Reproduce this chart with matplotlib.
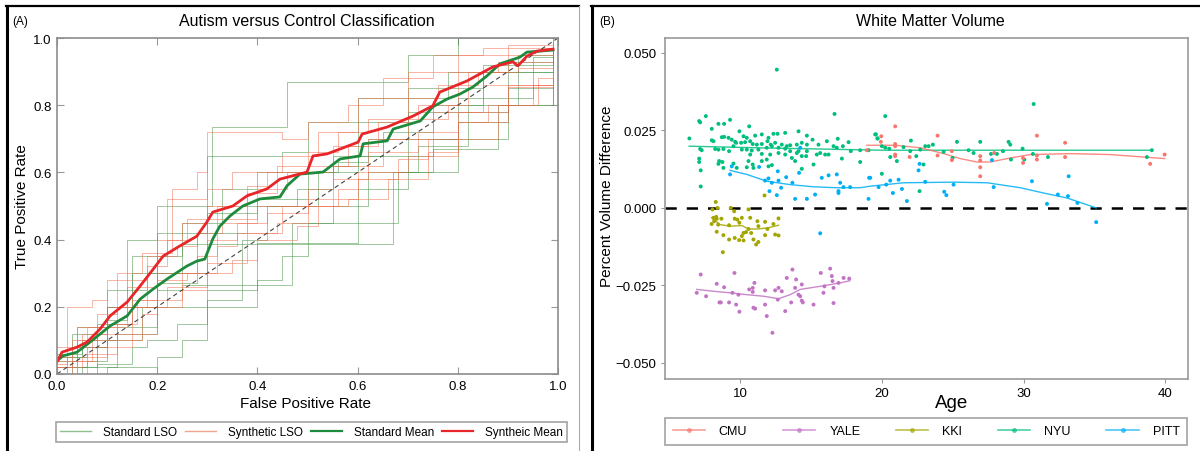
import matplotlib
matplotlib.use("Agg")
import matplotlib.pyplot as plt
from matplotlib.lines import Line2D

plt.rcParams['font.family'] = ['Liberation Sans', 'DejaVu Sans']

# ---------------- panel A data: ROC curves (fpr, tpr) ----------------
standard_lso = [
    [(0, 0), (0.02, 0.05), (0.06, 0.08), (0.1, 0.2), (0.2, 0.3), (0.3, 0.65), (0.45, 0.66), (0.5, 0.75), (0.6, 0.82), (0.7, 0.85), (0.85, 0.9), (0.99, 0.93)],
    [(0, 0), (0.05, 0.02), (0.12, 0.12), (0.2, 0.2), (0.3, 0.25), (0.4, 0.39), (0.5, 0.39), (0.6, 0.45), (0.68, 0.6), (0.8, 0.75), (0.9, 0.9), (0.99, 0.97)],
    [(0, 0.02), (0.08, 0.15), (0.15, 0.3), (0.2, 0.5), (0.31, 0.735), (0.45, 0.735), (0.46, 0.87), (0.6, 0.87), (0.7, 0.95), (0.8, 1.0), (0.99, 1.0)],
    [(0, 0), (0.1, 0.02), (0.2, 0.05), (0.25, 0.1), (0.3, 0.2), (0.4, 0.28), (0.45, 0.35), (0.5, 0.45), (0.6, 0.55), (0.7, 0.7), (0.8, 0.78), (0.9, 0.85), (0.99, 0.854)],
    [(0, 0.05), (0.05, 0.1), (0.12, 0.14), (0.2, 0.27), (0.28, 0.42), (0.38, 0.5), (0.48, 0.55), (0.55, 0.65), (0.65, 0.72), (0.75, 0.8), (0.85, 0.92), (0.99, 0.98)],
    [(0, 0.0), (0.03, 0.12), (0.1, 0.2), (0.15, 0.35), (0.25, 0.387), (0.45, 0.387), (0.66, 0.387), (0.67, 0.6), (0.75, 0.7), (0.9, 0.8), (0.99, 0.9)],
    [(0, 0.02), (0.06, 0.04), (0.1, 0.1), (0.17, 0.2), (0.2, 0.25), (0.25, 0.265), (0.47, 0.265), (0.47, 0.45), (0.55, 0.5), (0.62, 0.6), (0.72, 0.68), (0.82, 0.8), (0.92, 0.95), (0.99, 0.99)],
    [(0, 0.04), (0.04, 0.14), (0.1, 0.16), (0.14, 0.4), (0.2, 0.42), (0.3, 0.48), (0.4, 0.52), (0.5, 0.6), (0.56, 0.63), (0.62, 0.7), (0.7, 0.78), (0.8, 0.82), (0.95, 0.943), (0.99, 0.943)],
    [(0, 0.0), (0.08, 0.03), (0.15, 0.08), (0.18, 0.1), (0.24, 0.15), (0.3, 0.22), (0.37, 0.4), (0.42, 0.5), (0.52, 0.6), (0.6, 0.65), (0.75, 0.67), (0.88, 0.8), (0.99, 0.88)],
    [(0, 0.06), (0.05, 0.08), (0.1, 0.25), (0.18, 0.3), (0.25, 0.45), (0.33, 0.55), (0.4, 0.6), (0.55, 0.62), (0.6, 0.75), (0.7, 0.82), (0.78, 0.9), (0.9, 0.93), (0.99, 0.96)],
]
synthetic_lso = [
    [(0, 0.03), (0.02, 0.2), (0.07, 0.22), (0.1, 0.28), (0.18, 0.35), (0.22, 0.52), (0.3, 0.55), (0.35, 0.6), (0.45, 0.65), (0.52, 0.72), (0.6, 0.82), (0.7, 0.9), (0.8, 0.95), (0.99, 1.0)],
    [(0, 0.0), (0.04, 0.14), (0.1, 0.15), (0.15, 0.22), (0.2, 0.3), (0.28, 0.35), (0.32, 0.46), (0.4, 0.5), (0.5, 0.55), (0.55, 0.62), (0.65, 0.7), (0.75, 0.78), (0.85, 0.86), (0.99, 0.9)],
    [(0, 0.02), (0.05, 0.05), (0.1, 0.08), (0.15, 0.12), (0.2, 0.2), (0.25, 0.25), (0.3, 0.33), (0.38, 0.42), (0.45, 0.5), (0.55, 0.58), (0.62, 0.66), (0.72, 0.72), (0.8, 0.78), (0.9, 0.854), (0.99, 0.854)],
    [(0, 0.05), (0.03, 0.1), (0.08, 0.18), (0.12, 0.3), (0.17, 0.36), (0.23, 0.55), (0.28, 0.6), (0.3, 0.72), (0.38, 0.72), (0.45, 0.7), (0.5, 0.75), (0.58, 0.8), (0.65, 0.88), (0.75, 0.95), (0.85, 0.97), (0.99, 0.97)],
    [(0, 0.0), (0.06, 0.06), (0.12, 0.1), (0.17, 0.18), (0.2, 0.28), (0.26, 0.3), (0.3, 0.4), (0.36, 0.45), (0.42, 0.48), (0.5, 0.52), (0.6, 0.6), (0.7, 0.65), (0.8, 0.75), (0.9, 0.86), (0.99, 0.9)],
    [(0, 0.08), (0.05, 0.12), (0.1, 0.2), (0.14, 0.26), (0.2, 0.4), (0.25, 0.45), (0.3, 0.5), (0.38, 0.56), (0.42, 0.6), (0.5, 0.62), (0.58, 0.68), (0.64, 0.75), (0.72, 0.8), (0.8, 0.9), (0.88, 0.93), (0.99, 0.93)],
    [(0, 0.0), (0.03, 0.04), (0.07, 0.1), (0.12, 0.15), (0.16, 0.22), (0.2, 0.35), (0.24, 0.38), (0.28, 0.42), (0.33, 0.45), (0.4, 0.55), (0.46, 0.6), (0.55, 0.68), (0.62, 0.7), (0.7, 0.76), (0.78, 0.8), (0.82, 0.9), (0.9, 0.98), (0.99, 1.0)],
    [(0, 0.04), (0.08, 0.14), (0.14, 0.2), (0.2, 0.22), (0.25, 0.3), (0.32, 0.38), (0.36, 0.42), (0.44, 0.45), (0.5, 0.5), (0.56, 0.55), (0.6, 0.58), (0.68, 0.64), (0.74, 0.7), (0.8, 0.75), (0.86, 0.8), (0.96, 0.88), (0.99, 0.88)],
    [(0, 0.0), (0.04, 0.1), (0.06, 0.14), (0.12, 0.2), (0.18, 0.32), (0.22, 0.4), (0.26, 0.46), (0.32, 0.5), (0.38, 0.54), (0.44, 0.62), (0.5, 0.66), (0.56, 0.72), (0.62, 0.76), (0.7, 0.82), (0.76, 0.86), (0.84, 0.9), (0.92, 0.91), (0.99, 0.91)],
    [(0, 0.02), (0.03, 0.08), (0.1, 0.12), (0.15, 0.2), (0.22, 0.26), (0.3, 0.3), (0.35, 0.34), (0.4, 0.4), (0.48, 0.44), (0.52, 0.5), (0.58, 0.52), (0.66, 0.58), (0.74, 0.66), (0.8, 0.7), (0.88, 0.8), (0.95, 0.86), (0.99, 0.87)],
]
standard_mean_fpr = [0, 0.012, 0.04, 0.066, 0.106, 0.14, 0.166, 0.192, 0.22, 0.259, 0.279, 0.295, 0.311, 0.325, 0.339, 0.345, 0.371, 0.405, 0.445, 0.459, 0.485, 0.531, 0.565, 0.605, 0.611, 0.659, 0.671, 0.725, 0.75, 0.778, 0.804, 0.83, 0.858, 0.884, 0.924, 0.938, 0.99]
standard_mean_tpr = [0.039, 0.054, 0.065, 0.095, 0.143, 0.173, 0.223, 0.253, 0.283, 0.321, 0.336, 0.342, 0.402, 0.44, 0.461, 0.47, 0.50, 0.521, 0.527, 0.56, 0.595, 0.601, 0.64, 0.649, 0.685, 0.694, 0.729, 0.753, 0.795, 0.818, 0.833, 0.854, 0.887, 0.923, 0.943, 0.958, 0.964]
synthetic_mean_fpr = [0, 0.01, 0.04, 0.06, 0.086, 0.106, 0.14, 0.166, 0.192, 0.212, 0.245, 0.279, 0.299, 0.311, 0.351, 0.379, 0.419, 0.445, 0.499, 0.511, 0.539, 0.601, 0.609, 0.659, 0.711, 0.75, 0.764, 0.818, 0.87, 0.91, 0.92, 0.938, 0.958, 0.99]
synthetic_mean_tpr = [0.036, 0.065, 0.08, 0.095, 0.134, 0.173, 0.214, 0.262, 0.312, 0.351, 0.381, 0.41, 0.452, 0.482, 0.50, 0.53, 0.551, 0.58, 0.601, 0.649, 0.655, 0.69, 0.714, 0.735, 0.768, 0.798, 0.839, 0.872, 0.914, 0.929, 0.917, 0.946, 0.961, 0.967]

# ---------------- panel B data: age vs percent volume difference ----------------
sites = ['CMU', 'YALE', 'KKI', 'NYU', 'PITT']
site_colors = {'CMU': '#F8766D', 'KKI': '#A3A500', 'NYU': '#00BF7D', 'PITT': '#00B0F6', 'YALE': '#C273C4'}

nyu_age = [6.42, 7.11, 7.18, 7.58, 8.00, 8.00, 8.12, 8.47, 8.87, 9.29, 8.71, 8.87, 9.18, 9.41, 9.65, 7.18, 7.29, 7.11, 7.11, 7.22,
           7.22, 8.24, 8.47, 8.82, 9.22, 8.52, 8.47, 8.75, 8.82, 9.76, 9.53, 9.95, 10.24, 10.47, 10.64, 11.06, 11.53, 12.00, 12.35, 12.64,
           13.18, 14.12, 14.71, 15.11, 15.53, 16.12, 16.89, 17.65, 9.53, 9.72, 10.07, 10.35, 10.71, 10.89, 11.18, 11.53, 11.93, 12.16, 12.47, 12.94,
           13.29, 13.53, 14.00, 14.35, 14.71, 10.12, 10.47, 10.82, 11.29, 11.88, 12.24, 12.71, 13.18, 13.53, 14.12, 14.71, 10.71, 11.53, 12.12, 12.71,
           13.18, 14.00, 14.35, 14.66, 15.41, 15.65, 16.00, 16.24, 16.59, 16.82, 17.25, 17.81, 18.47, 10.59, 10.89, 11.53, 11.88, 13.65, 13.88, 15.18,
           17.18, 18.47, 10.47, 10.94, 12.00, 12.24, 14.35, 16.66, 19.53, 19.69, 19.06, 12.59, 19.58, 19.70, 20.00, 20.24, 20.24, 20.52, 20.00, 20.59,
           21.06, 21.53, 22.00, 22.05, 22.43, 22.71, 23.06, 23.30, 23.60, 22.94, 22.66, 24.36, 24.99, 25.30, 26.12, 26.47, 26.94, 27.70, 28.12, 28.55,
           28.94, 29.06, 29.11, 29.93, 30.05, 30.66, 30.71, 31.72, 39.05, 38.70]
nyu_val = [0.0224, 0.0280, 0.0276, 0.0296, 0.0255, 0.0218, 0.0215, 0.0271, 0.0271, 0.0284, 0.0228, 0.0229, 0.0226, 0.0220, 0.0213, 0.0190, 0.0186, 0.0159, 0.0148, 0.0121,
           0.0069, 0.0190, 0.0188, 0.0190, 0.0183, 0.0151, 0.0142, 0.0148, 0.0129, 0.0129, 0.0143, 0.0247, 0.0231, 0.0226, 0.0263, 0.0233, 0.0237, 0.0226, 0.0239, 0.0239,
           0.0242, 0.0247, 0.0233, 0.0220, 0.0204, 0.0215, 0.0223, 0.0212, 0.0199, 0.0210, 0.0210, 0.0212, 0.0215, 0.0206, 0.0204, 0.0206, 0.0215, 0.0204, 0.0210, 0.0204,
           0.0199, 0.0202, 0.0204, 0.0210, 0.0204, 0.0188, 0.0188, 0.0185, 0.0188, 0.0194, 0.0199, 0.0194, 0.0191, 0.0183, 0.0183, 0.0183, 0.0172, 0.0174, 0.0172, 0.0177,
           0.0172, 0.0177, 0.0167, 0.0167, 0.0172, 0.0177, 0.0172, 0.0172, 0.0199, 0.0194, 0.0199, 0.0183, 0.0186, 0.0151, 0.0140, 0.0151, 0.0156, 0.0161, 0.0151, 0.0140,
           0.0159, 0.0148, 0.0131, 0.0129, 0.0134, 0.0138, 0.0126, 0.0303, 0.0237, 0.0224, 0.0186, 0.0446, 0.0237, 0.0224, 0.0199, 0.0296, 0.0194, 0.0191, 0.0110, 0.0164,
           0.0151, 0.0196, 0.0183, 0.0217, 0.0167, 0.0188, 0.0199, 0.0199, 0.0204, 0.0140, 0.0054, 0.0181, 0.0161, 0.0213, 0.0186, 0.0177, 0.0213, 0.0174, 0.0174, 0.0183,
           0.0213, 0.0204, 0.0156, 0.0191, 0.0156, 0.0174, 0.0335, 0.0164, 0.0186, 0.0164]

cmu_age = [18.94, 19.96, 19.93, 20.94, 20.94, 20.94, 20.94, 20.94, 21.96, 23.93, 23.93, 24.94, 24.94, 26.94, 26.94, 26.94, 26.94, 27.93, 29.96, 29.96,
           30.94, 30.94, 30.94, 32.93, 32.93, 38.93, 39.95]
cmu_val = [0.0186, 0.0231, 0.0213, 0.0263, 0.0206, 0.0199, 0.0172, 0.0167, 0.0164, 0.0233, 0.0169, 0.0183, 0.0154, 0.0167, 0.0153, 0.0131, 0.0102, 0.0177, 0.0161, 0.0145,
           0.0233, 0.0169, 0.0156, 0.0210, 0.0164, 0.0142, 0.0172]

pitt_age = [9.41, 9.29, 11.34, 12.66, 13.25, 12.71, 12.00, 11.76, 12.24, 12.89, 12.07, 12.59, 13.69, 13.88, 14.16, 14.71, 15.29, 15.76, 16.24, 16.82,
            17.06, 16.94, 16.94, 17.29, 17.76, 19.10, 19.06, 14.24, 15.65, 19.18, 19.77, 20.31, 20.59, 20.78, 21.18, 21.42, 21.77, 22.59, 22.66, 23.06,
            24.40, 24.55, 25.06, 27.77, 27.89, 30.59, 31.65, 32.42, 33.13, 33.18, 33.80, 35.12]
pitt_val = [0.0134, 0.0108, 0.0132, 0.0118, 0.0099, 0.0088, 0.0095, 0.0088, 0.0081, 0.0065, 0.0054, 0.0041, 0.0081, 0.0029, 0.0113, 0.0029, 0.0043, 0.0097, 0.0105, 0.0108,
            0.0081, 0.0054, 0.0048, 0.0067, 0.0067, 0.0097, 0.0029, 0.0194, -0.0082, 0.0097, 0.0067, 0.0075, 0.0088, 0.0048, 0.0091, 0.0061, 0.0022, 0.0121, 0.0142, 0.0084,
            0.0052, 0.0041, 0.0075, 0.0154, 0.0067, 0.0086, 0.0013, 0.0043, 0.0038, 0.0102, 0.0016, -0.0046]

kki_age = [8.28, 8.05, 8.40, 9.34, 9.58, 10.59, 8.12, 8.31, 8.35, 7.99, 8.17, 8.45, 8.68, 9.22, 9.62, 9.81, 10.12, 9.95, 10.71, 11.22,
           11.76, 11.29, 10.59, 10.24, 10.42, 10.78, 10.12, 9.62, 9.93, 10.24, 9.22, 8.82, 8.35, 11.76, 11.93, 12.35, 12.71, 12.47, 12.71, 11.13,
           11.29, 10.94, 8.78, 11.72]
kki_val = [0.0019, -0.0005, 0.0000, 0.0000, -0.0011, -0.0005, -0.0032, -0.0029, -0.0035, -0.0052, -0.0043, -0.0054, -0.0035, -0.0056, -0.0035, -0.0038, -0.0032, -0.0048, -0.0032, -0.0043,
           -0.0045, -0.0059, -0.0068, -0.0081, -0.0078, -0.0081, -0.0091, -0.0097, -0.0104, -0.0105, -0.0102, -0.0088, -0.0077, -0.0088, -0.0068, -0.0052, -0.0034, -0.0086, -0.0089, -0.0118,
           -0.0110, -0.0102, -0.0143, 0.0040]

yale_age = [7.22, 6.94, 7.60, 8.35, 8.87, 8.54, 8.64, 9.22, 9.46, 9.60, 9.72, 9.88, 9.95, 10.64, 10.89, 11.01, 10.89, 10.94, 11.06, 11.76,
            11.76, 11.88, 12.28, 12.47, 12.71, 12.94, 12.66, 13.18, 13.29, 13.69, 13.95, 13.88, 14.12, 14.24, 14.35, 14.35, 14.42, 13.60, 15.18, 15.69,
            15.88, 15.95, 16.35, 16.47, 16.52, 16.59, 16.59, 16.94, 17.30, 17.70]
yale_val = [-0.0215, -0.0274, -0.0285, -0.0245, -0.0256, -0.0305, -0.0305, -0.0305, -0.0274, -0.0210, -0.0312, -0.0280, -0.0335, -0.0263, -0.0258, -0.0242, -0.0271, -0.0322, -0.0325, -0.0266,
            -0.0312, -0.0349, -0.0403, -0.0266, -0.0258, -0.0269, -0.0296, -0.0333, -0.0226, -0.0199, -0.0231, -0.0258, -0.0280, -0.0285, -0.0247, -0.0299, -0.0305, -0.0305, -0.0312, -0.0210,
            -0.0274, -0.0253, -0.0196, -0.0220, -0.0236, -0.0258, -0.0307, -0.0242, -0.0226, -0.0228]

# smoothed trend lines
smooth = {
    'NYU': ([6.4, 12, 20, 39.05], [0.0199, 0.0193, 0.0186, 0.0186]),
    'PITT': ([9.29, 10.47, 11.88, 13.53, 15.18, 16.82, 18.47, 19.18, 21.53, 25.06, 27.42, 29.77, 31.41, 33.06, 35.12],
             [0.0121, 0.0108, 0.0086, 0.0075, 0.0068, 0.0065, 0.0065, 0.0070, 0.0081, 0.0083, 0.0081, 0.0065, 0.0048, 0.0032, 0.0]),
    'CMU': ([18.94, 20.94, 22.71, 24.36, 25.53, 26.71, 27.65, 29.06, 30.47, 33.3, 36.1, 39.95],
            [0.0202, 0.0202, 0.0194, 0.0175, 0.0159, 0.0148, 0.0148, 0.0161, 0.0172, 0.0175, 0.0172, 0.0159]),
    'KKI': ([8.0, 8.59, 9.29, 10.12, 10.59, 11.29, 12.0, 12.71],
            [-0.0032, -0.0054, -0.0059, -0.0057, -0.0068, -0.0068, -0.0064, -0.0056]),
    'YALE': ([6.94, 8.12, 9.29, 10.47, 11.65, 12.71, 13.53, 14.24, 15.65, 17.06, 17.74],
             [-0.0263, -0.0269, -0.0274, -0.0280, -0.0285, -0.0293, -0.0280, -0.0263, -0.0253, -0.0242, -0.0235]),
}
points = {'NYU': (nyu_age, nyu_val), 'CMU': (cmu_age, cmu_val), 'PITT': (pitt_age, pitt_val),
          'KKI': (kki_age, kki_val), 'YALE': (yale_age, yale_val)}

W, H = 1200, 452
fig = plt.figure(figsize=(12, 4.52), dpi=100)

def px(x0, y0, x1, y1):
    return [x0 / W, 1 - y1 / H, (x1 - x0) / W, (y1 - y0) / H]

# panel frames
fig.add_artist(Line2D([7 / W, 7 / W], [0, 1 - 7 / H], color='black', lw=2.2, transform=fig.transFigure))
fig.add_artist(Line2D([6 / W, 579 / W], [1 - 7 / H, 1 - 7 / H], color='black', lw=1.6, transform=fig.transFigure))
fig.add_artist(Line2D([578.5 / W, 578.5 / W], [0, 1 - 7 / H], color='#aaaaaa', lw=0.8, transform=fig.transFigure))
fig.add_artist(Line2D([592 / W, 592 / W], [0, 1 - 7 / H], color='black', lw=2.2, transform=fig.transFigure))
fig.add_artist(Line2D([591 / W, 1], [1 - 7 / H, 1 - 7 / H], color='black', lw=1.6, transform=fig.transFigure))

# ---------------- panel A ----------------
ax = fig.add_axes(px(57, 39, 558, 375))
green_thin = '#3f8f3f'
red_thin = '#f26a4a'
for c in standard_lso:
    ax.plot([p[0] for p in c], [p[1] for p in c], color=green_thin, lw=0.7, alpha=0.5,
            drawstyle='steps-post')
for c in synthetic_lso:
    ax.plot([p[0] for p in c], [p[1] for p in c], color=red_thin, lw=0.7, alpha=0.5,
            drawstyle='steps-post')
ax.plot([0, 1], [0, 1], color='#444444', lw=0.8, ls=(0, (4, 3)))
ax.plot(standard_mean_fpr, standard_mean_tpr, color='#1e8a3c', lw=2)
ax.plot(synthetic_mean_fpr, synthetic_mean_tpr, color='#e8262a', lw=2)
ax.set_xlim(0, 1)
ax.set_ylim(0, 1)
ax.set_xticks([0, 0.2, 0.4, 0.6, 0.8, 1.0])
ax.set_yticks([0, 0.2, 0.4, 0.6, 0.8, 1.0])
ax.set_xticklabels(['0.0', '0.2', '0.4', '0.6', '0.8', '1.0'])
ax.set_yticklabels(['0.0', '0.2', '0.4', '0.6', '0.8', '1.0'])
ax.tick_params(direction='in', length=5, width=0.8, color='#999999', labelsize=9.5,
               top=True, right=True, pad=4)
for s in ax.spines.values():
    s.set_color('#8c8c8c')
    s.set_linewidth(1.2)
fig.text(307 / W, 1 - 21 / H, 'Autism versus Control Classification', ha='center', va='center', fontsize=11.5)
fig.text(20 / W, 1 - 22 / H, '(A)', ha='center', va='center', fontsize=8.5)
fig.text(306 / W, 1 - 404 / H, 'False Positive Rate', ha='center', va='center', fontsize=11)
fig.text(22 / W, 1 - 207 / H, 'True Positive Rate', ha='center', va='center', rotation=90, fontsize=11)

hA = [Line2D([], [], color='#8fc08f', lw=1), Line2D([], [], color='#f5a48c', lw=1),
      Line2D([], [], color='#1e8a3c', lw=1.6), Line2D([], [], color='#e8262a', lw=1.6)]
legA = fig.legend(hA, ['Standard LSO', 'Synthetic LSO', 'Standard Mean', 'Syntheic Mean'],
                  loc='lower left', bbox_to_anchor=(56 / W, 1 - 443 / H, 511 / W, 24 / H),
                  mode='expand', ncol=4, fontsize=8.5, frameon=True, fancybox=False,
                  handlelength=2.6, handletextpad=1.0, borderaxespad=0, borderpad=0.35)
legA.get_frame().set_edgecolor('#8c8c8c')
legA.get_frame().set_linewidth(1.2)

# ---------------- panel B ----------------
bx = fig.add_axes(px(665, 39, 1188, 380))
bx.axhline(0, color='black', lw=1.8, ls=(0, (4.5, 4)), zorder=1)
for name in ['NYU', 'CMU', 'PITT', 'KKI', 'YALE']:
    a, v = points[name]
    bx.scatter(a, v, s=8, color=site_colors[name], edgecolors='none', zorder=3)
for name in ['NYU', 'CMU', 'PITT', 'KKI', 'YALE']:
    sa, sv = smooth[name]
    bx.plot(sa, sv, color=site_colors[name], lw=1.0, alpha=0.85, zorder=2)
bx.set_xlim(4.7, 41.6)
bx.set_ylim(-0.0552, 0.0548)
bx.set_xticks([10, 20, 30, 40])
bx.set_yticks([-0.05, -0.025, 0, 0.025, 0.05])
bx.set_yticklabels(['\u22120.050', '\u22120.025', '0.000', '0.025', '0.050'])
bx.tick_params(direction='out', length=3, width=0.8, color='#999999', labelsize=9.5, pad=3)
for s in bx.spines.values():
    s.set_color('#999999')
    s.set_linewidth(1.2)
fig.text(930 / W, 1 - 22 / H, 'White Matter Volume', ha='center', va='center', fontsize=11.5)
fig.text(607 / W, 1 - 22 / H, '(B)', ha='center', va='center', fontsize=8.5)
fig.text(952 / W, 1 - 404 / H, 'Age', ha='center', va='center', fontsize=13.5)
fig.text(607 / W, 1 - 196 / H, 'Percent Volume Difference', ha='center', va='center', rotation=90, fontsize=11)

hB = [Line2D([], [], color=site_colors[n], lw=1.2, alpha=0.7, marker='o', markersize=3.5,
             markerfacecolor=site_colors[n], markeredgecolor='none') for n in sites]
legB = fig.legend(hB, sites, loc='lower left', bbox_to_anchor=(665 / W, 1 - 446 / H, 522 / W, 29 / H),
                  mode='expand', ncol=5, fontsize=9, frameon=True, fancybox=False,
                  handlelength=2.6, handletextpad=1.1, borderaxespad=0, borderpad=0.6)
legB.get_frame().set_edgecolor('#8c8c8c')
legB.get_frame().set_linewidth(1.2)

fig.savefig('out.png', dpi=100)
